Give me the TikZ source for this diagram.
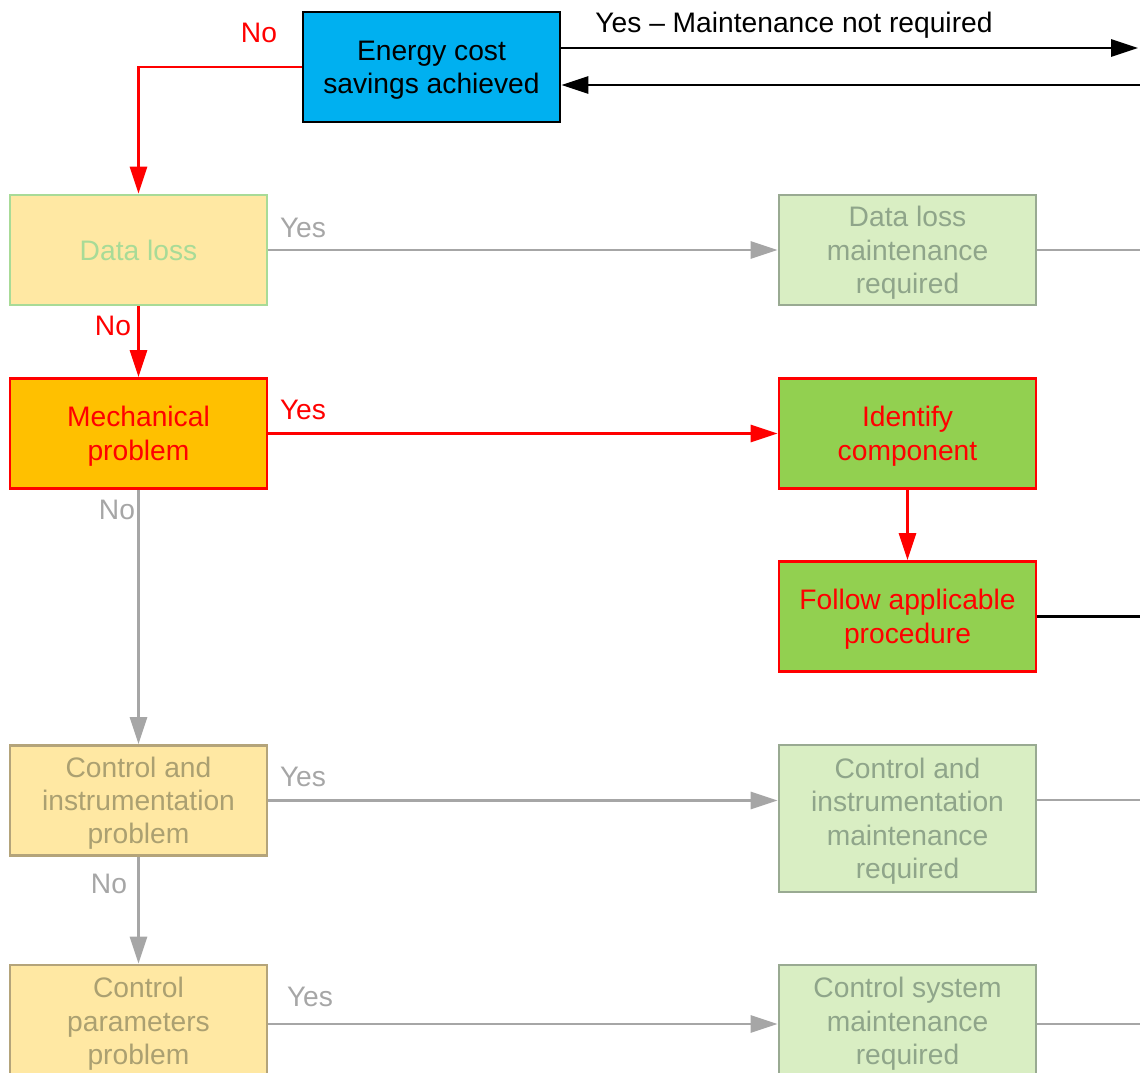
\documentclass[tikz,border=0pt]{standalone}
\usepackage{fontspec}
\setmainfont{Liberation Sans}
\usetikzlibrary{arrows.meta,calc}

\definecolor{cblue}{HTML}{00B0F0}
\definecolor{cred}{HTML}{FF0000}
\definecolor{corange}{HTML}{FFC000}
\definecolor{cgreen}{HTML}{92D050}
\definecolor{cpale}{HTML}{FFE8A3}
\definecolor{cpalegreen}{HTML}{D9EEC3}
\definecolor{cgrey}{HTML}{A6A6A6}
\definecolor{cleaf}{HTML}{A8DB97}
\definecolor{ctan}{HTML}{B4A47A}
\definecolor{ctantext}{HTML}{ABA071}
\definecolor{csage}{HTML}{99AA92}
\definecolor{csagetext}{HTML}{8FA58A}

% struts giving every text block the same line-box metrics
\newcommand\topstrut{\rule{0pt}{27pt}}
\newcommand\botstrut{\rule[-7pt]{0pt}{0pt}}

\tikzset{
  box/.style={draw, line width=2.9pt, minimum width=257pt, minimum height=110pt,
    align=center, inner sep=0pt, font=\fontsize{28.2}{33.4}\selectfont},
  startbox/.style={box, fill=cblue, draw=black, text=black},
  activebox/.style={box, fill=corange, draw=cred, text=cred},
  actionbox/.style={box, fill=cgreen, draw=cred, text=cred},
  idlebox/.style={box, fill=cpale, draw=ctan, text=ctantext},
  idleleaf/.style={box, fill=cpale, draw=cleaf, text=cleaf},
  idleaction/.style={box, fill=cpalegreen, draw=csage, text=csagetext},
  tip/.style={-{Triangle[length=27pt,width=17pt]}},
  redline/.style={line width=2.9pt, draw=cred},
  greyline/.style={line width=2.9pt, draw=cgrey},
  blackline/.style={line width=2.9pt, draw=black},
  lbl/.style={inner sep=0pt, font=\fontsize{28.2}{33.4}\selectfont},
}

\begin{document}
\begin{tikzpicture}[x=1pt,y=-1pt]
  \useasboundingbox (0,0) rectangle (1140,1072);
  \clip (0,0) rectangle (1140,1072);

  % decision column
  \node[startbox] (energy) at (431.5,67) {\topstrut Energy cost\\savings achieved\botstrut};
  \node[idleleaf] (dataloss) at (138.5,250) {\topstrut Data loss\botstrut};
  \node[activebox] (mech) at (138.5,433.5) {\topstrut Mechanical\\problem\botstrut};
  \node[idlebox] (ci) at (138.5,800.5) {\topstrut Control and\\instrumentation\\problem\botstrut};
  \node[idlebox, minimum height=112pt] (cp) at (138.5,1021) {\topstrut Control\\parameters\\problem\botstrut};

  % action column
  \node[idleaction] (dlm) at (907.5,250) {\topstrut Data loss\\maintenance\\required\botstrut};
  \node[actionbox] (ident) at (907.5,433.5) {\topstrut Identify\\component\botstrut};
  \node[actionbox] (follow) at (907.5,616.5) {\topstrut Follow applicable\\procedure\botstrut};
  \node[idleaction, minimum height=147pt] (cim) at (907.5,818.5) {\topstrut Control and\\instrumentation\\maintenance\\required\botstrut};
  \node[idleaction, minimum height=112pt] (csm) at (907.5,1021) {\topstrut Control system\\maintenance\\required\botstrut};

  % loose ends at the right margin
  \coordinate (outYes) at (1138,48);
  \coordinate (inBack) at (1140,85);
  \coordinate (outDL) at (1140,250);
  \coordinate (outFol) at (1140,616.5);
  \coordinate (outCI) at (1140,800);
  \coordinate (outCS) at (1140,1024);
  \coordinate (bendNo) at (138.5,67);

  % top row
  \draw[blackline, tip] (energy.east |- outYes) -- (outYes);
  \draw[blackline, tip] (inBack) -- (energy.east |- inBack);
  \node[lbl, text=black] at (794,25) {Yes – Maintenance not required};

  \draw[redline, tip] (energy.west) -- (bendNo) -- (dataloss.north);
  \node[lbl, text=cred] at (259,33) {No};

  % data loss row
  \draw[greyline, tip] (dataloss.east) -- (dlm.west);
  \node[lbl, text=cgrey] at (303,228) {Yes};
  \draw[greyline] (dlm.east) -- (outDL);

  \draw[redline, tip] (dataloss.south) -- (mech.north);
  \node[lbl, text=cred] at (113,326) {No};

  % mechanical row
  \draw[redline, tip] (mech.east) -- (ident.west);
  \node[lbl, text=cred] at (303,410) {Yes};
  \draw[redline, tip] (ident.south) -- (follow.north);
  \draw[blackline] (follow.east) -- (outFol);

  \draw[greyline, tip] (mech.south) -- (ci.north);
  \node[lbl, text=cgrey] at (117,510) {No};

  % control and instrumentation row
  \draw[greyline, tip] (ci.east) -- (cim.west |- ci.east);
  \node[lbl, text=cgrey] at (303,777) {Yes};
  \draw[greyline] (cim.east |- outCI) -- (outCI);

  \draw[greyline, tip] (ci.south) -- (cp.north);
  \node[lbl, text=cgrey] at (109,884) {No};

  % control parameters row
  \draw[greyline, tip] (cp.east |- outCS) -- (csm.west |- outCS);
  \node[lbl, text=cgrey] at (310,997) {Yes};
  \draw[greyline] (csm.east |- outCS) -- (outCS);
\end{tikzpicture}
\end{document}
